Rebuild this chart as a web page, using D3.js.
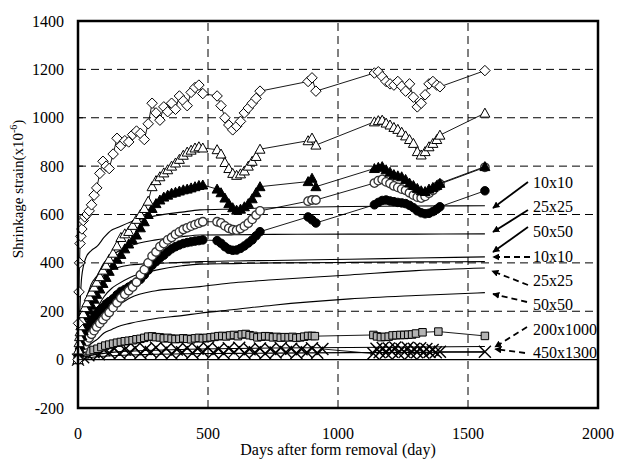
<!DOCTYPE html>
<html><head><meta charset="utf-8">
<script src="https://cdn.jsdelivr.net/npm/d3@7"></script>
<style>body{margin:0;background:#fff}svg{display:block}text{font-family:"Liberation Serif","Times New Roman",serif;fill:#000}</style>
</head><body><svg id="c" width="617" height="467"></svg>
<script>
// ---------- data ----------
const days = [0,2,4,6,8,11,15,20,26,34,43,52,62,72,84,96,108,120,135,150,165,180,195,210,225,240,255,270,285,300,315,330,345,360,375,390,405,420,435,450,465,480,
  535,550,565,580,595,610,625,640,655,670,685,700,
  885,900,915,
  1140,1155,1170,1185,1200,1215,1230,1245,1260,1275,1290,1305,1320,1335,1350,1365,1380,1392,
  1565];
const diamondVals = [0,150,280,400,480,510,540,575,590,600,615,640,680,710,770,820,800,790,850,915,885,905,900,930,945,935,910,975,1060,1020,990,1045,1025,1060,1035,1090,1070,1050,1105,1125,1135,1100,
  1090,1050,1000,970,950,965,985,1020,1040,1060,1080,1110,
  1150,1165,1110,
  1185,1190,1170,1150,1140,1135,1150,1130,1110,1140,1085,1045,1060,1095,1140,1150,1135,1128,
  1195];
const openTriVals = [0,40,70,95,115,140,165,190,215,235,260,280,300,320,343,370,390,415,440,470,505,520,530,555,580,600,625,655,715,740,756,772,785,800,813,828,845,858,866,875,880,875,
  868,850,815,790,770,762,768,780,800,820,840,870,
  905,916,887,
  983,988,990,978,970,960,952,940,925,910,894,860,846,860,880,894,910,928,
  1019];
const filledTriVals = [0,15,30,45,60,78,98,120,150,180,205,225,250,270,292,315,340,365,390,415,435,458,478,495,515,545,570,600,625,645,660,672,680,688,692,697,702,705,710,715,720,722,
  705,690,668,645,628,618,622,632,645,665,690,715,
  736,750,715,
  790,795,798,785,775,765,760,756,745,730,720,708,698,695,705,712,720,729,
  798];
const openCircVals = [0,5,10,15,20,26,33,45,60,75,90,105,120,135,150,165,180,195,215,235,255,270,285,300,320,350,372,400,428,445,467,480,495,505,518,528,538,545,552,558,564,570,
  570,565,553,543,537,535,542,552,564,580,598,615,
  655,660,660,
  730,740,745,735,728,718,712,705,700,690,680,672,668,675,688,700,715,726,
  795];
const filledCircVals = [0,10,20,30,40,52,65,82,100,125,140,160,175,190,205,215,230,240,252,268,282,290,300,310,320,332,350,370,390,405,420,432,446,458,467,474,480,484,487,490,492,495,
  492,481,467,456,452,453,460,470,482,495,512,529,
  590,578,565,
  640,650,658,660,656,653,650,648,645,638,628,615,607,603,605,612,622,632,
  698];
const squareDays = [0,15,30,45,60,75,90,105,120,135,150,165,180,195,210,225,240,255,270,285,300,315,330,345,360,375,390,405,420,435,450,465,480,
  495,510,525,540,555,570,585,600,615,630,645,660,675,690,705,720,735,750,765,780,795,810,825,840,855,870,885,900,911,
  1136,1150,1165,1180,1195,1210,1225,1240,1255,1270,1285,1300,1325,1386,
  1565];
const squareVals = [5,20,30,35,40,45,52,58,62,66,70,73,76,78,80,84,86,90,95,96,93,92,88,90,87,85,86,88,86,84,88,90,88,
  90,92,94,97,98,96,100,102,97,104,106,101,98,92,95,97,96,92,94,91,93,92,94,90,92,95,98,98,97,
  102,96,93,94,95,100,101,102,102,103,104,108,113,116,
  98];
const crossDays = [0,20,40,60,80,100,120,140,160,180,200,220,240,260,280,300,320,340,360,380,400,420,440,460,480,500,520,540,560,580,600,620,640,660,680,700,720,740,760,780,800,820,840,860,880,900,920,940,
  1136,1148,1160,1172,1184,1196,1208,1220,1232,1244,1256,1268,1280,1292,1304,1316,1328,1340,1352,1364,1376,1392,
  1565];
const crossVals = [0,10,18,30,22,40,28,45,25,42,30,48,26,44,32,50,28,46,24,42,30,48,27,45,33,50,28,44,26,47,31,49,27,43,30,46,25,44,29,48,32,45,27,43,30,47,28,44,
  25,45,30,48,28,46,33,50,27,44,31,49,26,45,30,47,28,44,32,40,30,33,
  33];

// model curves
const modelDays = [0,5,14,30,50,75,100,130,150,200,300,400,469,600,750,1046,1300,1565];
const model10Solid  = [0,150,340,420,450,470,505,536,545,568,595,610,619,623,628,633,635,636];
const model25Solid  = [0,60,150,240,310,350,400,430,445,470,495,508,515,516,518,519,519,520];
const model50Solid  = [0,40,110,200,270,320,350,372,380,391,398,402,405,408,410,415,420,425];
const model10Dash   = [0,25,70,130,170,215,260,295,310,340,370,388,395,397,400,402,404,405];
const model25Dash   = [0,12,35,70,105,140,175,205,220,255,285,295,302,318,330,350,368,379];
const model50Dash   = [0,5,18,40,65,85,110,125,135,150,170,182,192,207,225,251,265,277];
const model200x1000 = [0,3,8,14,18,22,26,30,32,35,39,42,44,46,48,50,52,54];
const model450x1300 = [0,1,3,6,9,12,14,16,17,19,22,24,25,26,27,29,30,31];

const labelTexts = ["10x10","25x25","50x50","10x10","25x25","50x50","200x1000","450x1300"];
const xTicks = [0,500,1000,1500,2000];
const yTicks = [-200,0,200,400,600,800,1000,1200,1400];

// ---------- layout ----------
const svg = d3.select("#c");
const x = d3.scaleLinear().domain([0,2000]).range([78,598]);
const y = d3.scaleLinear().domain([-200,1400]).range([408,21]);

// gridlines
const g = svg.append("g");
[200,400,600,800,1000,1200].forEach(v=>{
  g.append("line").attr("x1",x(0)).attr("x2",x(2000)).attr("y1",y(v)).attr("y2",y(v))
   .attr("stroke","#000").attr("stroke-width",1).attr("stroke-dasharray","8,5");
});
[500,1000,1500].forEach(d=>{
  g.append("line").attr("x1",x(d)).attr("x2",x(d)).attr("y1",y(-200)).attr("y2",y(1400))
   .attr("stroke","#000").attr("stroke-width",1).attr("stroke-dasharray","8,5");
});
g.append("line").attr("x1",x(0)).attr("x2",x(2000)).attr("y1",y(0)).attr("y2",y(0))
 .attr("stroke","#000").attr("stroke-width",1.2);

// model curves
const mline = d3.line().x(d=>x(d[0])).y(d=>y(d[1])).curve(d3.curveMonotoneX);
[model10Solid,model25Solid,model50Solid,model10Dash,model25Dash,model50Dash,model200x1000,model450x1300].forEach(m=>{
  svg.append("path").attr("d",mline(modelDays.map((d,i)=>[d,m[i]])))
    .attr("fill","none").attr("stroke","#000").attr("stroke-width",1.1);
});

function shape(type,s){
  const h=s/2;
  if(type==="diamond") return `M0,${-h}L${h},0L0,${h}L${-h},0Z`;
  if(type==="tri") return `M0,${-h}L${h},${h*0.8}L${-h},${h*0.8}Z`;
  if(type==="square") return `M${-h},${-h}H${h}V${h}H${-h}Z`;
  if(type==="x") return `M${-h},${-h}L${h},${h}M${-h},${h}L${h},${-h}`;
  if(type==="circle") return `M${h},0A${h},${h} 0 1,1 ${-h},0A${h},${h} 0 1,1 ${h},0Z`;
}
const sline = d3.line().x(d=>x(d[0])).y(d=>y(d[1]));
function series(dd,vals,type,size,fill,stroke,sw){
  const pts = dd.map((d,i)=>[d,vals[i]]);
  svg.append("path").attr("d",sline(pts)).attr("fill","none").attr("stroke","#000").attr("stroke-width",0.9);
  svg.append("g").selectAll("path").data(pts).join("path")
    .attr("transform",d=>`translate(${x(d[0])},${y(d[1])})`)
    .attr("d",shape(type,size)).attr("fill",fill).attr("stroke",stroke).attr("stroke-width",sw);
}
series(crossDays,crossVals,"x",12,"none","#000",1.4);
series(squareDays,squareVals,"square",7.5,"#b3b3b3","#000",1);
series(days,filledCircVals,"circle",8.5,"#000","#000",1);
series(days,openCircVals,"circle",8.5,"#fff","#333",1.3);
series(days,filledTriVals,"tri",10,"#000","#000",1);
series(days,openTriVals,"tri",10,"#fff","#000",1);
series(days,diamondVals,"diamond",10.5,"#fff","#000",1);

// border
svg.append("rect").attr("x",x(0)).attr("y",y(1400)).attr("width",x(2000)-x(0)).attr("height",y(-200)-y(1400))
  .attr("fill","none").attr("stroke","#000").attr("stroke-width",2.5);
yTicks.forEach(v=>svg.append("line").attr("x1",x(0)).attr("x2",x(0)+5).attr("y1",y(v)).attr("y2",y(v)).attr("stroke","#000"));

// tick labels
svg.append("g").selectAll("text").data(yTicks).join("text")
  .attr("x",x(0)-14).attr("y",d=>y(d)+5.5).attr("text-anchor","end").attr("font-size",16).text(d=>d);
svg.append("g").selectAll("text").data(xTicks).join("text")
  .attr("x",d=>x(d)).attr("y",439).attr("text-anchor","middle").attr("font-size",16).text(d=>d);

// axis titles
svg.append("text").attr("x",338).attr("y",455).attr("text-anchor","middle").attr("font-size",16)
  .text("Days after form removal (day)");
const yt = svg.append("text").attr("transform","translate(23,189) rotate(-90)").attr("text-anchor","middle")
  .attr("font-size",15);
yt.append("tspan").text("Shrinkage strain(x10");
yt.append("tspan").attr("font-size",10).attr("dy",-6).text("-6");
yt.append("tspan").attr("dy",6).text(")");

// annotation labels + arrows
const labelY = [188,211.5,236.5,261.5,285.5,310,335,358];
const arrows = [[528,182,493,208,0],[528,210,493,232,0],[528,227,493,252,0],[530,257,493,257,1],
                [528,285,492,271,1],[527,302,493,294,1],[527,327,495,347,1],[525,353,495,349,1]];
const defs = svg.append("defs");
defs.append("marker").attr("id","ah").attr("viewBox","0 0 10 10").attr("refX",9).attr("refY",5)
  .attr("markerWidth",7).attr("markerHeight",7).attr("orient","auto").attr("markerUnits","userSpaceOnUse")
  .append("path").attr("d","M0,0L10,5L0,10Z").attr("fill","#000");
arrows.forEach(a=>{
  svg.append("line").attr("x1",a[0]).attr("y1",a[1]).attr("x2",a[2]).attr("y2",a[3])
    .attr("stroke","#000").attr("stroke-width",1.8).attr("stroke-dasharray",a[4]?"6,4":null)
    .attr("marker-end","url(#ah)");
});
svg.append("g").selectAll("text").data(labelTexts).join("text")
  .attr("x",533).attr("y",(d,i)=>labelY[i]).attr("font-size",16).text(d=>d);
</script></body></html>
